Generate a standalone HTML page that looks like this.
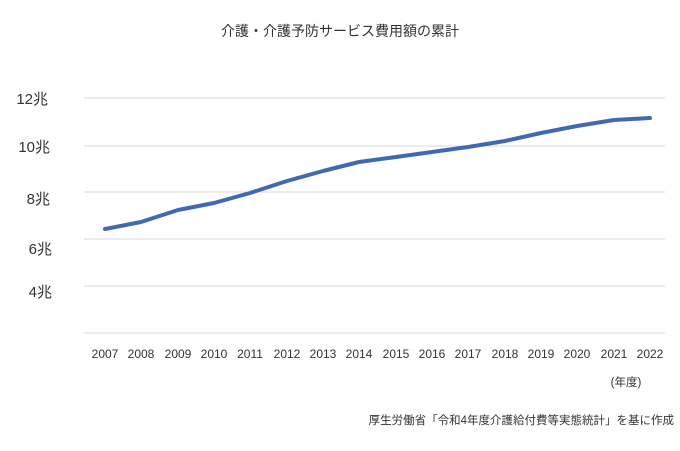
<!DOCTYPE html>
<html><head><meta charset="utf-8"><style>
body{margin:0;background:#fff;}
svg text{font-family:"Liberation Sans","Noto Sans CJK JP",sans-serif;fill:#333;}
</style></head><body>
<svg width="680" height="446" viewBox="0 0 680 446" xmlns="http://www.w3.org/2000/svg">
<rect width="680" height="446" fill="#fff"/>
<text x="340" y="36" font-size="14" text-anchor="middle">介護・介護予防サービス費用額の累計</text>
<g stroke="#d9d9d9" stroke-width="1">
<line x1="84" x2="665" y1="98" y2="98"/>
<line x1="84" x2="665" y1="146" y2="146"/>
<line x1="84" x2="665" y1="192" y2="192"/>
<line x1="84" x2="665" y1="239" y2="239"/>
<line x1="84" x2="665" y1="286" y2="286"/>
<line x1="84" x2="665" y1="333" y2="333"/>
</g>
<g font-size="15" text-anchor="end">
<text x="48" y="104">12兆</text>
<text x="50" y="152">10兆</text>
<text x="50" y="204">8兆</text>
<text x="52" y="254">6兆</text>
<text x="52" y="297">4兆</text>
</g>
<g font-size="12" text-anchor="middle">
<text x="105" y="358">2007</text><text x="141" y="358">2008</text><text x="178" y="358">2009</text><text x="214" y="358">2010</text><text x="250" y="358">2011</text><text x="287" y="358">2012</text><text x="323" y="358">2013</text><text x="359" y="358">2014</text><text x="396" y="358">2015</text><text x="432" y="358">2016</text><text x="468" y="358">2017</text><text x="505" y="358">2018</text><text x="541" y="358">2019</text><text x="577" y="358">2020</text><text x="614" y="358">2021</text><text x="650" y="358">2022</text>
</g>
<text x="626" y="386" font-size="11.5" text-anchor="middle">(年度)</text>
<text x="674" y="424" font-size="11.5" text-anchor="end">厚生労働省「令和4年度介護給付費等実態統計」を基に作成</text>
<polyline fill="none" stroke="#4169b3" stroke-width="4" stroke-linejoin="round" stroke-linecap="round"
points="105,229 141,222 178,210 214,203 250,193 287,181 323,171 359,162 396,157 432,152 468,147 505,141 541,133 577,126 614,120 650,118"/>
</svg>
</body></html>
